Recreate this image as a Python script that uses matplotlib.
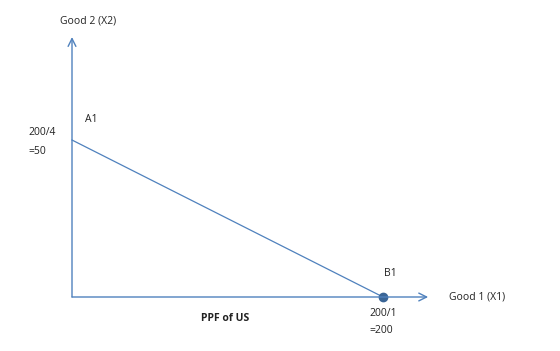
import matplotlib
matplotlib.use('Agg')
import matplotlib.pyplot as plt

# PPF of US: intercepts
x_intercept = 200 / 1   # Good 1 max
y_intercept = 200 / 4   # Good 2 max
ppf_x = [0, x_intercept]
ppf_y = [y_intercept, 0]

plt.rcParams['font.family'] = ['Open Sans', 'DejaVu Sans']

fig = plt.figure(figsize=(5.6, 3.51), dpi=100)
ax = fig.add_axes([0, 0, 1, 1])
ax.set_xlim(-46.3, 313.8)
ax.set_ylim(-17.2, 94.6)
ax.axis('off')

blue = '#4f81bd'

# axes with open arrows
ax.annotate('', xy=(229, 0), xytext=(0, 0),
            arrowprops=dict(arrowstyle='->', color=blue, lw=1.0,
                            mutation_scale=14, shrinkA=0, shrinkB=0))
ax.annotate('', xy=(0, 82.8), xytext=(0, 0),
            arrowprops=dict(arrowstyle='->', color=blue, lw=1.0,
                            mutation_scale=14, shrinkA=0, shrinkB=0))

ax.plot(ppf_x, ppf_y, color=blue, lw=0.9)
ax.plot([x_intercept], [0], 'o', color='#3a6596', markersize=6)

fs = 7.5
tc = '#222222'
ax.text(10.3, 88, 'Good 2 (X2)', fontsize=fs, color=tc, ha='center', va='center')
ax.text(8.4, 56.4, 'A1', fontsize=fs, color=tc, ha='left', va='center')
ax.text(-28.3, 52.5, '200/4', fontsize=fs, color=tc, ha='left', va='center')
ax.text(-28.3, 46.5, '=50', fontsize=fs, color=tc, ha='left', va='center')
ax.text(200.6, 7.6, 'B1', fontsize=fs, color=tc, ha='left', va='center')
ax.text(242.4, 0, 'Good 1 (X1)', fontsize=fs, color=tc, ha='left', va='center')
ax.text(191, -5.4, '200/1', fontsize=fs, color=tc, ha='left', va='center')
ax.text(191, -10.8, '=200', fontsize=fs, color=tc, ha='left', va='center')
ax.text(98.4, -6.7, 'PPF of US', fontsize=fs, color=tc, ha='center', va='center',
        fontweight='bold')

fig.savefig('out.png', dpi=100)
